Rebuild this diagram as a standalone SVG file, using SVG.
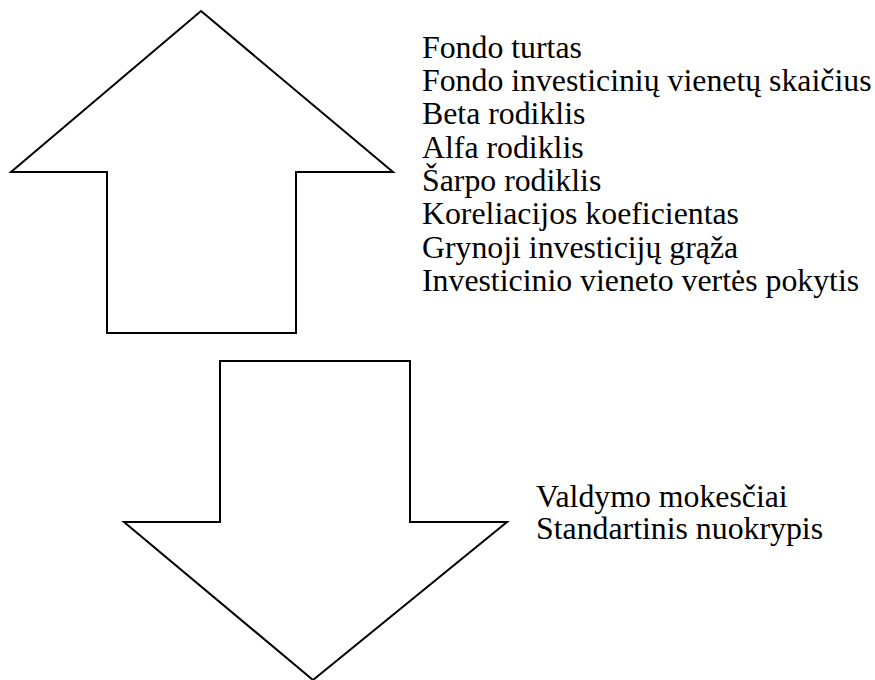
<svg xmlns="http://www.w3.org/2000/svg" width="875" height="680" viewBox="0 0 875 680">
<style>
.arrow{fill:#fff;stroke:#000;stroke-width:2;stroke-linejoin:miter}
.t{font-family:"Liberation Serif","Times New Roman",serif;font-size:31.8px;fill:#000}
</style>
<rect width="875" height="680" fill="#fff"/>
<g id="up-arrow">
<polygon class="arrow" points="201,11 393,172 296,172 296,333 107,333 107,172 11,172"/>
</g>
<g id="down-arrow">
<polygon class="arrow" points="220,361 410,361 410,522 507,522 313,680 124,522 220,522"/>
</g>
<g id="up-text">
<text class="t" x="422" y="57.8">Fondo turtas</text>
<text class="t" x="422" y="91.1">Fondo investicinių vienetų skaičius</text>
<text class="t" x="422" y="124.4">Beta rodiklis</text>
<text class="t" x="422" y="157.7">Alfa rodiklis</text>
<text class="t" x="422" y="191">Šarpo rodiklis</text>
<text class="t" x="422" y="224.3">Koreliacijos koeficientas</text>
<text class="t" x="422" y="257.6">Grynoji investicijų grąža</text>
<text class="t" x="422" y="290.9">Investicinio vieneto vertės pokytis</text>
</g>
<g id="down-text">
<text class="t" x="536" y="507.3">Valdymo mokesčiai</text>
<text class="t" x="536" y="538.8">Standartinis nuokrypis</text>
</g>
<g id="connectors"></g>
</svg>
